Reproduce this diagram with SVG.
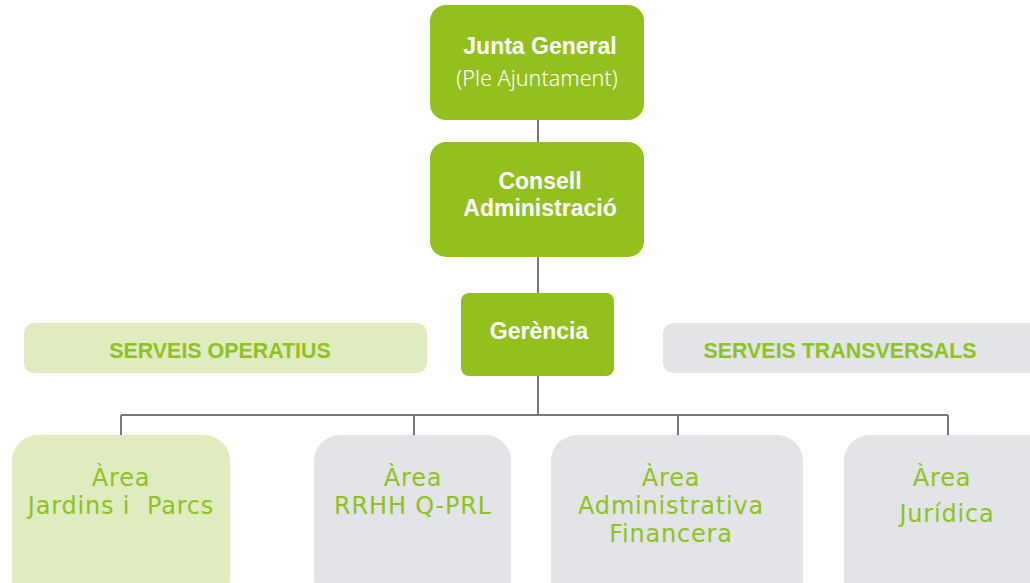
<svg xmlns="http://www.w3.org/2000/svg" width="1030" height="583" viewBox="0 0 1030 583">
<style>
.g{fill:#93c01f}
.lg{fill:#e0ecc0}
.gr{fill:#e3e4e8}
.wb{font-family:"Liberation Sans",Arial,sans-serif;font-weight:bold;fill:#fff;font-size:23px;text-anchor:middle}
.wl{font-family:"Noto Sans","Open Sans",sans-serif;font-weight:300;fill:#fff;font-size:21.6px;text-anchor:middle}
.hb{font-family:"Liberation Sans",Arial,sans-serif;font-weight:bold;fill:#8dc21f;font-size:21.4px;text-anchor:middle}
.ar{font-family:"DejaVu Sans",sans-serif;fill:#8dc21f;font-size:24px;letter-spacing:0.8px;text-anchor:middle}
.ln{stroke:#77787b;stroke-width:2;fill:none}
</style>
<g id="connectors">
<path class="ln" d="M538 120V142M538 257V293M538 376V415M121 415H948M121 415V435M414 415V435M678 415V435M948 415V435"/>
</g>
<g id="junta"><rect class="g" x="430" y="5" width="214" height="115" rx="16"/><text class="wb" x="540" y="54">Junta General</text><text class="wl" x="537" y="86">(Ple Ajuntament)</text></g>
<g id="consell"><rect class="g" x="430" y="142" width="214" height="115" rx="16"/><text class="wb" x="540" y="189">Consell</text><text class="wb" x="540" y="216">Administració</text></g>
<g id="gerencia"><rect class="g" x="461" y="293" width="153" height="83" rx="8"/><text class="wb" x="539" y="339">Gerència</text></g>
<g id="serveis-operatius"><rect class="lg" x="24" y="323" width="403" height="50" rx="10"/><text class="hb" x="220" y="358">SERVEIS OPERATIUS</text></g>
<g id="serveis-transversals"><rect class="gr" x="663" y="323" width="380" height="50" rx="10"/><text class="hb" x="840" y="358">SERVEIS TRANSVERSALS</text></g>
<g id="area-jardins"><rect class="lg" x="12" y="435" width="218" height="170" rx="26"/><text class="ar" x="121" y="486">Àrea</text><text class="ar" x="121" y="514" xml:space="preserve">Jardins i  Parcs</text></g>
<g id="area-rrhh"><rect class="gr" x="314" y="435" width="197" height="170" rx="26"/><text class="ar" x="413" y="486">Àrea</text><text class="ar" x="413" y="514">RRHH Q-PRL</text></g>
<g id="area-admin"><rect class="gr" x="551" y="435" width="252" height="170" rx="26"/><text class="ar" x="671" y="486">Àrea</text><text class="ar" x="671" y="514">Administrativa</text><text class="ar" x="671" y="542">Financera</text></g>
<g id="area-juridica"><rect class="gr" x="844" y="435" width="210" height="170" rx="26"/><text class="ar" x="942" y="486">Àrea</text><text class="ar" x="947" y="522">Jurídica</text></g>
</svg>
